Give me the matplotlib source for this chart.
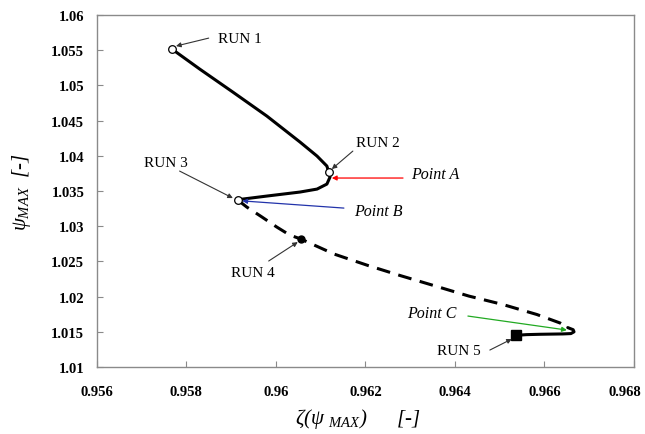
import matplotlib
matplotlib.use("Agg")
import matplotlib.pyplot as plt
import matplotlib.transforms as mtransforms

# ---- data ----
# solid branch RUN 1 -> RUN 2 -> Point A -> RUN 3
solid1_x = [0.95768, 0.95830, 0.95904, 0.95980, 0.96054, 0.96092, 0.96114, 0.96118,
            0.96121, 0.96114, 0.96092, 0.96054, 0.95980, 0.95926, 0.95915]
solid1_y = [1.05517, 1.05233, 1.04906, 1.04565, 1.04196, 1.03997, 1.03855, 1.03770,
            1.03699, 1.03599, 1.03528, 1.03486, 1.03429, 1.03386, 1.03372]
# dashed branch RUN 3 -> RUN 4 -> Point C
dash_x = [0.95915, 0.95935, 0.95969, 0.96002, 0.96031, 0.96056, 0.96130, 0.96206,
          0.96279, 0.96355, 0.96431, 0.96507, 0.96583, 0.96635, 0.96652]
dash_y = [1.03372, 1.03273, 1.03131, 1.02989, 1.02875, 1.02818, 1.02605, 1.02442,
          1.02297, 1.02153, 1.02008, 1.01888, 1.01746, 1.01625, 1.01560]
# solid branch Point C -> RUN 5
solid2_x = [0.96652, 0.96664, 0.96666, 0.96659, 0.96641, 0.96590, 0.96560, 0.96536]
solid2_y = [1.01560, 1.01530, 1.01500, 1.01475, 1.01470, 1.01465, 1.01460, 1.01450]

runs_open_x = [0.95768, 0.96118, 0.95915]   # RUN 1, RUN 2, RUN 3
runs_open_y = [1.05517, 1.03770, 1.03372]
run4 = (0.96056, 1.02818)
run5 = (0.96536, 1.01450)

x_ticks = [0.956, 0.958, 0.960, 0.962, 0.964, 0.966, 0.968]
x_ticklabels = ["0.956", "0.958", "0.96", "0.962", "0.964", "0.966", "0.968"]
y_ticks = [1.01, 1.015, 1.02, 1.025, 1.03, 1.035, 1.04, 1.045, 1.05, 1.055, 1.06]
y_ticklabels = ["1.01", "1.015", "1.02", "1.025", "1.03", "1.035", "1.04", "1.045", "1.05", "1.055", "1.06"]

plt.rcParams["font.family"] = ["Liberation Serif", "DejaVu Serif"]
plt.rcParams["mathtext.fontset"] = "custom"
plt.rcParams["mathtext.rm"] = "Liberation Serif:italic"
plt.rcParams["mathtext.it"] = "Liberation Serif:italic"

fig = plt.figure(figsize=(6.45, 4.35), dpi=100)
ax = fig.add_axes([0.150, 0.154, 0.833, 0.809])

ax.plot(solid1_x, solid1_y, color="black", lw=2.2, solid_capstyle="round", zorder=3)
ax.plot(dash_x, dash_y, color="black", lw=2.2, linestyle=(0, (4.5, 2.8)), zorder=3)
ax.plot(solid2_x, solid2_y, color="black", lw=2.2, solid_capstyle="round", zorder=3)

ax.plot(runs_open_x, runs_open_y, linestyle="none", marker="o", ms=5.5,
        mfc="white", mec="black", mew=0.9, zorder=5)
ax.plot([run4[0]], [run4[1]], linestyle="none", marker="o", ms=5, color="black", zorder=5)
ax.plot([run5[0]], [run5[1]], linestyle="none", marker="s", ms=6.5, color="black", zorder=5)

ax.set_xlim(0.956, 0.968)
ax.set_ylim(1.01, 1.06)
ax.set_xticks(x_ticks)
ax.set_xticklabels(x_ticklabels)
ax.set_yticks(y_ticks)
ax.set_yticklabels(y_ticklabels)
for s in ax.spines.values():
    s.set_color("#8a8a8a")
    s.set_linewidth(1.0)
ax.tick_params(direction="in", length=4, color="#8a8a8a", width=0.8, labelsize=10.5)
ax.tick_params(axis="x", pad=13)
ax.tick_params(axis="y", pad=9)
for lab in ax.get_xticklabels() + ax.get_yticklabels():
    lab.set_fontweight("bold")
# last x label is pulled inward as in the reference
last = ax.get_xticklabels()[-1]
last.set_transform(last.get_transform() +
                   mtransforms.ScaledTranslation(-9 / 100, 0, fig.dpi_scale_trans))

xl = ax.set_xlabel(r"$\zeta(\psi\ _{MAX})\qquad [\text{-}]$", fontsize=15)
xl.set_va("center")
ax.xaxis.set_label_coords(0.486, -0.145)
yl = ax.set_ylabel(r"$\psi_{MAX}\ \ [\text{-}]$", fontsize=15)
yl.set_va("center")
ax.yaxis.set_label_coords(-0.14, 0.5)

def arrow(tail, head, color="#333333", lw=0.8):
    ax.annotate("", xy=head, xytext=tail,
                arrowprops=dict(arrowstyle="-|>", color=color, lw=lw,
                                mutation_scale=7, shrinkA=0, shrinkB=0), zorder=6)

lab_kw = dict(fontsize=11, ha="center", va="center", zorder=7)
ax.text(0.95920, 1.05673, "RUN 1", **lab_kw)
arrow((0.95850, 1.05673), (0.95777, 1.05560))
ax.text(0.96228, 1.04196, "RUN 2", **lab_kw)
arrow((0.96172, 1.04068), (0.96125, 1.03812))
ax.text(0.95754, 1.03912, "RUN 3", **lab_kw)
arrow((0.95785, 1.03784), (0.95904, 1.03400))
ax.text(0.95949, 1.02349, "RUN 4", **lab_kw)
arrow((0.95984, 1.02506), (0.96049, 1.02775))
ax.text(0.96409, 1.01241, "RUN 5", **lab_kw)
arrow((0.96478, 1.01241), (0.96527, 1.01398))

pt_kw = dict(fontsize=11.5, style="italic", ha="center", va="center", zorder=7)
ax.text(0.96355, 1.03741, "Point A", **pt_kw)
arrow((0.96284, 1.03685), (0.96125, 1.03685), color="red", lw=0.9)
ax.text(0.96230, 1.03216, "Point B", **pt_kw)
arrow((0.96152, 1.03258), (0.95925, 1.03360), color="#2233aa", lw=0.9)
ax.text(0.96349, 1.01767, "Point C", **pt_kw)
arrow((0.96429, 1.01724), (0.96650, 1.01525), color="#22aa22", lw=0.9)

fig.savefig("out.png", dpi=100)
